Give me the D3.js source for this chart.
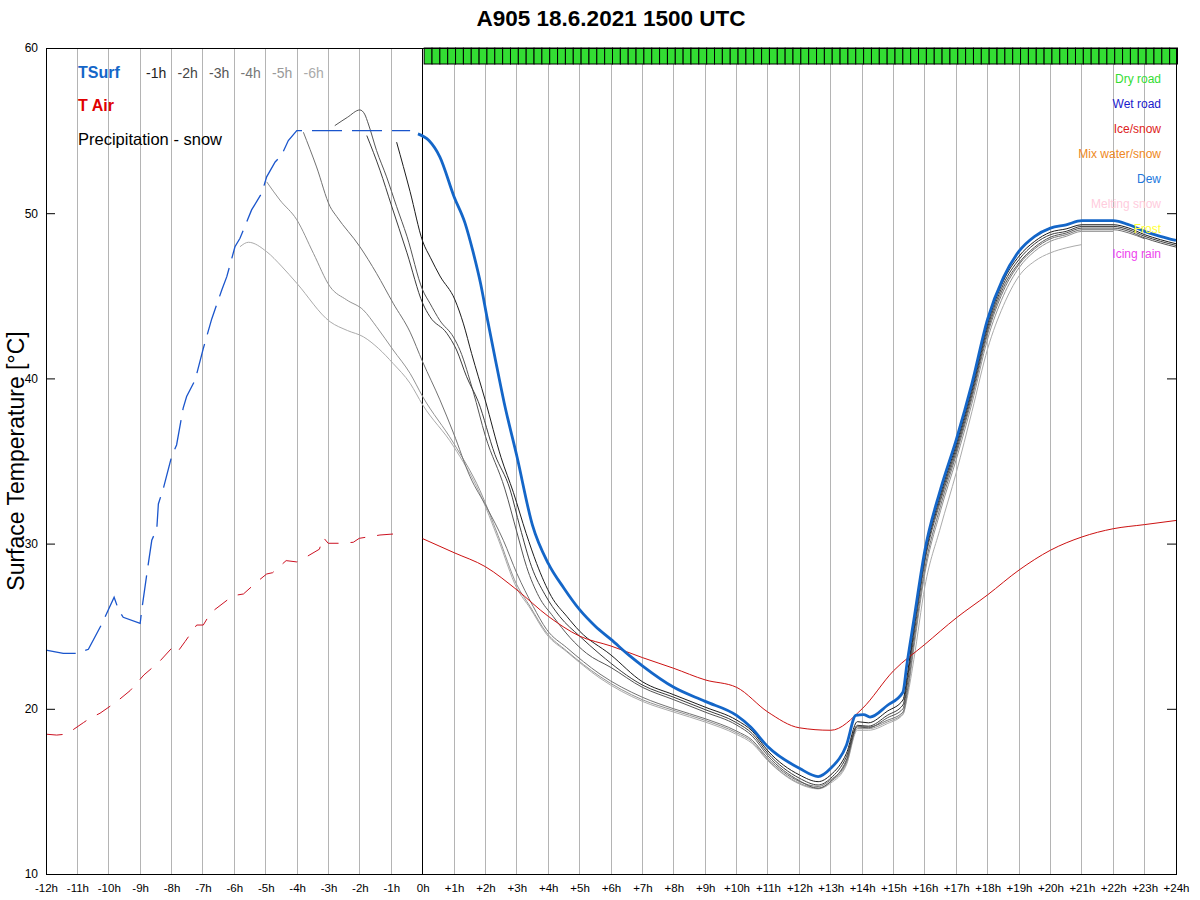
<!DOCTYPE html>
<html><head><meta charset="utf-8">
<script src="https://cdn.jsdelivr.net/npm/d3@7"></script>
<style>body{margin:0;background:#fff}svg{display:block;font-family:"Liberation Sans",Arial,Helvetica,sans-serif}</style>
</head><body><svg id="c" width="1200" height="900"></svg>
<script>
// ---------- data ----------
const xTickLabels = ["-12h","-11h","-10h","-9h","-8h","-7h","-6h","-5h","-4h","-3h","-2h","-1h","0h","+1h","+2h","+3h","+4h","+5h","+6h","+7h","+8h","+9h","+10h","+11h","+12h","+13h","+14h","+15h","+16h","+17h","+18h","+19h","+20h","+21h","+22h","+23h","+24h"];
const yTicks = [10,20,30,40,50,60];

// observed surface temperature (past), [hour, °C]
const tsurfObs = [[-12,23.55],[-11.45,23.36],[-11.0,23.36],[-10.65,23.6],[-10.23,25.1],[-9.83,26.75],[-9.69,26.0],[-9.54,25.54],[-9.0,25.17],[-8.95,25.98],[-8.77,28.4],[-8.63,30.2],[-8.47,30.9],[-8.42,32.4],[-8.26,33.35],[-8.0,35.26],[-7.84,35.97],[-7.63,38.2],[-7.52,38.9],[-7.25,39.9],[-6.99,41.8],[-6.72,43.6],[-6.4,45.35],[-6.24,46.16],[-5.98,47.97],[-5.82,48.48],[-5.45,50.2],[-5.13,51.2],[-4.97,52.2],[-4.7,53.1],[-4.5,53.5],[-4.28,54.4],[-4.01,55.0],[-0.4,55.0]];
// observed air temperature (past)
const tairObs = [[-11.98,18.46],[-11.66,18.41],[-11.34,18.47],[-10.81,19.16],[-10.6,19.43],[-10.28,19.73],[-9.75,20.43],[-9.32,21.1],[-8.88,22.05],[-8.39,22.85],[-8.0,23.66],[-7.84,23.36],[-7.57,24.07],[-7.2,25.07],[-6.99,25.07],[-6.75,25.82],[-6.22,26.59],[-6.03,26.85],[-5.71,26.95],[-5.27,27.7],[-4.97,28.16],[-4.78,28.24],[-4.35,28.97],[-4.01,28.89],[-3.73,29.17],[-3.29,29.66],[-3.17,30.38],[-3.01,30.02],[-2.6,30.02],[-2.21,30.08],[-2.02,30.32],[-1.36,30.52],[-0.94,30.58],[-0.78,30.68],[-0.7,30.62]];
// forecast surface temperature (latest run)
const tsurfFc = [[-0.15,54.8],[0.2,54.4],[0.55,53.4],[1,51.0],[1.35,49.4],[1.6,47.7],[1.85,45.7],[2.05,43.7],[2.3,41.3],[2.6,38.5],[3,35.3],[3.5,31.1],[4,28.8],[4.5,27.3],[5,26.0],[5.5,25.0],[6,24.2],[6.6,23.2],[7,22.6],[8,21.3],[9,20.45],[10,19.6],[10.45,18.9],[11,17.7],[12,16.4],[12.6,15.9],[13,16.4],[13.5,17.8],[13.8,19.6],[14.05,19.65],[14.25,19.5],[14.8,20.2],[15.3,21.0],[15.42,22.6],[15.65,25.4],[16,29.6],[16.5,33.3],[17,36.3],[17.5,39.7],[18,43.6],[18.5,46.1],[19,47.7],[19.5,48.6],[20,49.1],[20.5,49.3],[21,49.55],[22,49.55],[22.5,49.3],[23,48.9],[23.5,48.6],[24,48.35]];
// forecast air temperature
const tairFc = [[0,30.3],[1,29.45],[2,28.6],[3,27.2],[4,25.6],[5,24.4],[6,23.8],[7,23.1],[8,22.45],[9,21.75],[10,21.3],[11,19.8],[12,18.85],[13,18.7],[14,20.0],[15,22.3],[16,23.9],[17,25.5],[18,26.9],[19,28.4],[20,29.6],[21,30.4],[22,30.9],[23,31.15],[24,31.4]];

// earlier forecast runs
const run1 = [[-0.83,54.3],[-0.4,51.3],[0,48.3],[0.25,47.3],[0.55,46.2],[1.03,44.75],[1.3,43.3],[1.56,41.5],[1.99,38.7],[2.5,35.2],[2.89,33.1],[3.3,30.6],[3.63,28.8],[4.1,26.8],[4.59,25.6],[5.0,24.7],[5.97,23.3],[7,21.64],[8,20.85],[9,20.1],[10,19.32],[10.5,18.65],[11,17.45],[12,16.0],[12.6,15.59],[13,16.0],[13.5,17.3],[13.85,19.22],[14.2,19.15],[14.8,19.85],[15.3,20.53],[15.45,22.2],[15.65,25.0],[16,29.3],[16.5,33.0],[17,36.0],[17.5,39.4],[18,43.3],[18.5,45.9],[19,47.4],[19.5,48.3],[20,48.85],[20.5,49.05],[21,49.3],[22,49.3],[22.5,49.1],[23,48.7],[23.5,48.4],[24,48.15]];
const run2 = [[-1.78,54.7],[-1.36,52.6],[-1,50.5],[-0.5,47.6],[0,44.55],[0.23,43.74],[0.77,42.73],[1.08,41.72],[1.4,40.1],[1.77,38.6],[2.3,35.4],[2.78,33.3],[3.1,31.0],[3.47,28.6],[3.9,26.9],[4.37,25.58],[5.0,24.4],[5.65,23.3],[7,21.44],[8,20.7],[9,19.95],[10,19.16],[10.5,18.5],[11,17.3],[12,15.8],[12.6,15.39],[13,15.8],[13.5,17.1],[13.85,19.0],[14.2,18.95],[14.8,19.6],[15.3,20.23],[15.45,21.9],[15.65,24.7],[16,29.1],[16.5,32.8],[17,35.8],[17.5,39.2],[18,43.1],[18.5,45.7],[19,47.2],[19.5,48.15],[20,48.7],[20.5,48.9],[21,49.2],[22,49.2],[22.5,49.0],[23,48.6],[23.5,48.3],[24,48.05]];
const run3 = [[-2.8,55.3],[-2.4,55.8],[-2.0,56.25],[-1.85,56.0],[-1.73,55.4],[-1.47,53.8],[-1.15,52.2],[-0.83,50.4],[-0.5,48.6],[0,45.35],[0.23,44.55],[0.55,43.5],[0.98,42.5],[1.19,41.7],[1.61,39.2],[2.0,36.5],[2.62,33.3],[3.0,30.7],[3.31,28.6],[3.7,26.8],[4.16,25.58],[4.7,24.3],[5.22,23.36],[6,22.5],[7,21.3],[8,20.55],[9,19.8],[10,19.02],[10.5,18.35],[11,17.15],[12,15.65],[12.6,15.19],[13,15.6],[13.5,16.9],[13.85,18.9],[14.2,18.85],[14.8,19.45],[15.3,20.0],[15.45,21.6],[15.65,24.4],[16,28.9],[16.5,32.6],[17,35.6],[17.5,39.0],[18,42.9],[18.5,45.5],[19,47.0],[19.5,47.95],[20,48.55],[20.5,48.8],[21,49.1],[22,49.1],[22.5,48.9],[23,48.5],[23.5,48.2],[24,47.95]];
const run4 = [[-3.8,54.9],[-3.38,52.8],[-2.95,50.4],[-2.74,49.8],[-2.0,47.97],[-1.47,46.36],[-0.94,44.55],[-0.4,42.8],[0,41.0],[0.55,38.7],[0.98,36.7],[1.51,34.05],[2.04,32.2],[2.57,30.2],[3.0,28.2],[3.52,26.2],[3.95,24.8],[4.59,23.7],[5.65,22.1],[7,20.7],[8,20.0],[9,19.4],[10,18.65],[10.5,18.1],[11,17.0],[12,15.6],[12.6,15.3],[13,15.7],[13.5,16.8],[13.85,18.95],[14.2,18.9],[14.8,19.3],[15.3,19.8],[15.45,21.2],[15.65,24.0],[16,28.5],[16.5,32.3],[17,35.4],[17.5,38.8],[18,42.7],[18.5,45.3],[19,46.9],[19.5,47.85],[20,48.45],[20.5,48.7],[21,49.0],[22,49.0],[22.5,48.8],[23,48.45]];
const run5 = [[-4.97,51.9],[-4.55,50.8],[-4.01,49.6],[-3.48,47.57],[-2.95,45.55],[-2.42,44.75],[-1.89,44.14],[-1.47,43.13],[-0.94,41.72],[-0.4,40.3],[0,38.9],[0.98,36.1],[1.83,33.2],[2.4,30.5],[3.0,27.5],[3.42,26.2],[3.95,24.6],[4.59,23.5],[5.65,21.95],[7,20.55],[8,19.9],[9,19.3],[10,18.55],[10.5,18.0],[11,16.9],[12,15.5],[12.6,15.2],[13,15.6],[13.5,16.7],[13.85,18.8],[14.2,18.8],[14.8,19.2],[15.3,19.7],[15.45,21.0],[15.65,23.7],[16,28.2],[16.5,32.0],[17,35.1],[17.5,38.5],[18,42.4],[18.5,45.0],[19,46.7],[19.5,47.7],[20,48.3],[20.5,48.6],[21,48.9],[22,48.9]];
const run6 = [[-5.82,47.97],[-5.55,48.24],[-4.97,47.67],[-4.5,46.8],[-4.01,45.76],[-2.95,43.43],[-2.4,42.9],[-1.89,42.52],[-1.4,41.8],[-0.94,40.9],[-0.4,39.7],[0,38.4],[0.98,35.9],[1.83,33.0],[2.4,30.3],[3.0,27.3],[3.42,26.1],[3.95,24.5],[4.59,23.45],[5.65,21.85],[7,20.45],[8,19.8],[9,19.2],[10,18.45],[10.5,17.9],[11,16.85],[12,15.45],[12.6,15.15],[13,15.5],[13.5,16.6],[13.85,18.7],[14.2,18.7],[14.8,19.1],[15.3,19.65],[15.45,20.8],[15.65,23.0],[16,27.4],[16.5,31.0],[17,34.3],[17.5,38.0],[18,41.8],[18.5,44.4],[19,46.2],[19.5,47.1],[20,47.6],[20.5,47.9],[21,48.1]];
const runLabels = ["-1h","-2h","-3h","-4h","-5h","-6h"];
const runLineColors = ["#1c1c1c","#3c3c3c","#555555","#727272","#939393","#ababab"];
const runTextColors = ["#222222","#444444","#555555","#777777","#999999","#aaaaaa"];

// road state per 15 minutes from 0h to +24h (D = dry road)
const roadState = "DDDDDDDDDDDDDDDDDDDDDDDDDDDDDDDDDDDDDDDDDDDDDDDDDDDDDDDDDDDDDDDDDDDDDDDDDDDDDDDDDDDDDDDDDDDDDDDD";
const condLabels = ["Dry road","Wet road","Ice/snow","Mix water/snow","Dew","Melting snow","Frost","Icing rain"];
const condColors = ["#33dd33","#1a1acc","#dd2222","#ee8822","#2277dd","#ffccdd","#ffff33","#ee44ee"];

// ---------- drawing ----------
const svg = d3.select("#c");
const L = 46, R = 1176, T = 48, B = 874;
const x = d3.scaleLinear().domain([-12, 24]).range([L, R]);
const y = d3.scaleLinear().domain([10, 60]).range([B, T]);
const xTickVals = xTickLabels.map(s => +s.replace("h", ""));

// grid
svg.append("g").selectAll("line").data(xTickVals.filter(v => v > -12 && v < 24)).join("line")
  .attr("x1", d => x(d)).attr("x2", d => x(d)).attr("y1", T).attr("y2", B)
  .attr("stroke", d => d === 0 ? "#000" : "#b4b4b4").attr("stroke-width", 1)
  .attr("shape-rendering", "crispEdges");

// road condition bar
const cellW = 0.25;
svg.append("g").selectAll("rect").data(roadState.split("")).join("rect")
  .attr("x", (d, i) => x(i * cellW) + 1.5)
  .attr("width", (d, i) => x((i + 1) * cellW) - x(i * cellW))
  .attr("y", T).attr("height", 16)
  .attr("fill", d => condColors[0]).attr("stroke", "#000").attr("stroke-width", 1);

// lines
const line = d3.line().x(d => x(d[0])).y(d => y(d[1]));
const smooth = d3.line().x(d => x(d[0])).y(d => y(d[1])).curve(d3.curveMonotoneX);
const g = svg.append("g").attr("fill", "none");

[run6, run5, run4, run3, run2, run1].forEach((r, k) => {
  g.append("path").attr("d", smooth(r)).attr("stroke", runLineColors[5 - k]).attr("stroke-width", 1);
});
g.append("path").attr("d", line(tairObs)).attr("stroke", "#cc1122").attr("stroke-width", 1).attr("stroke-dasharray", "16,12");
g.append("path").attr("d", smooth(tairFc)).attr("stroke", "#cc1111").attr("stroke-width", 1);
g.append("path").attr("d", line(tsurfObs)).attr("stroke", "#1a55cc").attr("stroke-width", 1.3).attr("stroke-dasharray", "30,10");
g.append("path").attr("d", smooth(tsurfFc)).attr("stroke", "#1466c8").attr("stroke-width", 2.8).attr("stroke-linejoin", "round");

// frame
svg.append("rect").attr("x", L).attr("y", T).attr("width", R - L).attr("height", B - T)
  .attr("fill", "none").attr("stroke", "#000").attr("stroke-width", 1).attr("shape-rendering", "crispEdges");

// axes
const ay = svg.append("g").attr("transform", `translate(${L},0)`)
  .call(d3.axisLeft(y).tickValues(yTicks).tickSizeInner(-9).tickSizeOuter(0).tickPadding(8).tickFormat(d3.format("d")));
ay.select(".domain").remove();
ay.selectAll("text").attr("font-size", 12).attr("fill", "#000").attr("font-family", "Liberation Sans, Arial, sans-serif");
ay.selectAll("line").attr("stroke", "#000");
const ay2 = svg.append("g").attr("transform", `translate(${R},0)`)
  .call(d3.axisRight(y).tickValues(yTicks).tickSizeInner(-9).tickSizeOuter(0).tickFormat(""));
ay2.select(".domain").remove();
ay2.selectAll("line").attr("stroke", "#000");

const ax = svg.append("g").attr("transform", `translate(0,${B})`)
  .call(d3.axisBottom(x).tickValues(xTickVals).tickSize(0).tickPadding(10).tickFormat((d, i) => xTickLabels[i]));
ax.select(".domain").remove();
ax.selectAll("text").attr("font-size", 11.5).attr("fill", "#000").attr("font-family", "Liberation Sans, Arial, sans-serif");

// title & axis label
svg.append("text").attr("x", (L + R) / 2).attr("y", 26).attr("text-anchor", "middle")
  .attr("font-size", 22.5).attr("font-weight", "bold").text("A905 18.6.2021 1500 UTC");
svg.append("text").attr("transform", "translate(24,461) rotate(-90)").attr("text-anchor", "middle")
  .attr("font-size", 23).text("Surface Temperature [°C]");

// left legend
svg.append("text").attr("x", 78).attr("y", 78).attr("font-size", 16).attr("font-weight", "bold").attr("fill", "#1466c8").text("TSurf");
runLabels.forEach((t, i) => {
  svg.append("text").attr("x", 146 + i * 31.5).attr("y", 78).attr("font-size", 14).attr("fill", runTextColors[i]).text(t);
});
svg.append("text").attr("x", 78).attr("y", 111).attr("font-size", 16).attr("font-weight", "bold").attr("fill", "#e00000").text("T Air");
svg.append("text").attr("x", 78).attr("y", 145).attr("font-size", 16.5).attr("fill", "#000").text("Precipitation - snow");

// right legend
condLabels.forEach((t, i) => {
  svg.append("text").attr("x", 1161).attr("y", 83 + i * 25).attr("text-anchor", "end")
    .attr("font-size", 12).attr("fill", condColors[i]).text(t);
});
</script></body></html>
